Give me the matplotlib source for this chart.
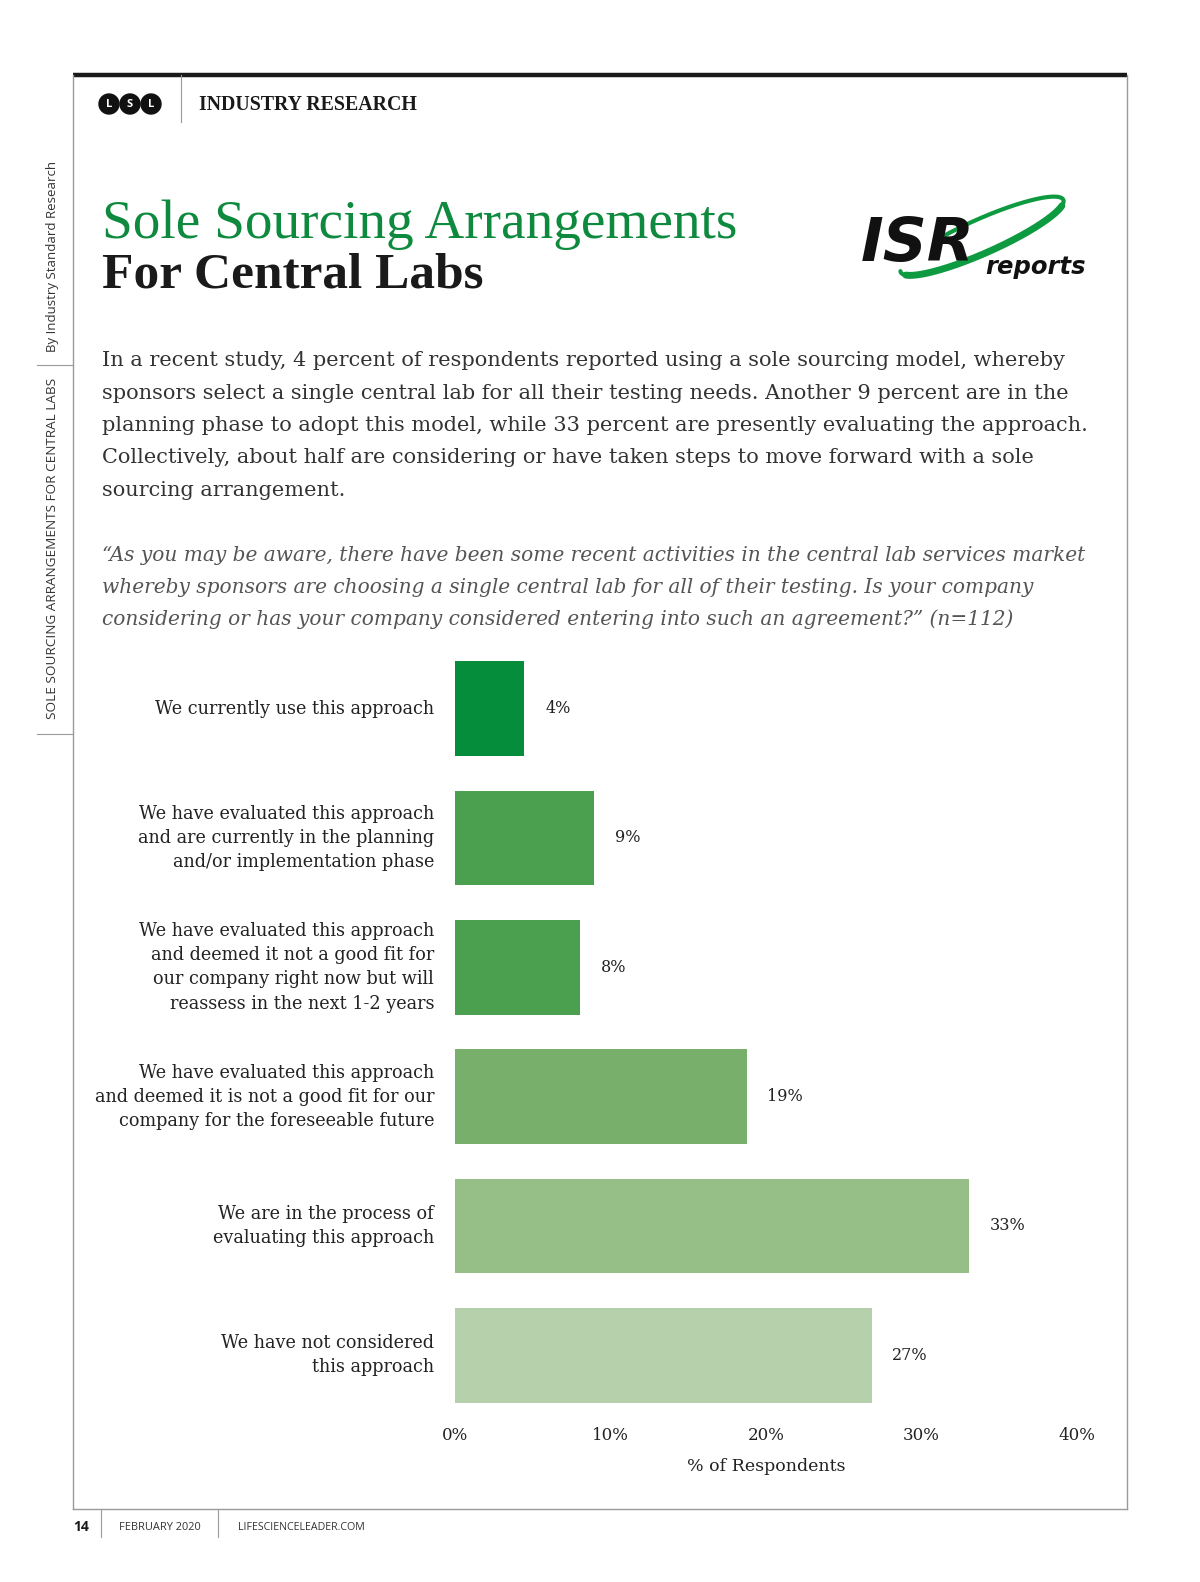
import numpy as np
import matplotlib
matplotlib.use("Agg")
import matplotlib.pyplot as plt
from matplotlib.patches import Circle

# data
categories = [
    "We currently use this approach",
    "We have evaluated this approach\nand are currently in the planning\nand/or implementation phase",
    "We have evaluated this approach\nand deemed it not a good fit for\nour company right now but will\nreassess in the next 1-2 years",
    "We have evaluated this approach\nand deemed it is not a good fit for our\ncompany for the foreseeable future",
    "We are in the process of\nevaluating this approach",
    "We have not considered\nthis approach",
]
values = [4.46, 8.93, 8.04, 18.75, 33.04, 26.79]   # % of respondents (n=112)
bar_colors = ["#058d3c", "#4aa04f", "#4aa04f", "#77af6b", "#96bf87", "#b5d0aa"]
x_ticks = [0, 10, 20, 30, 40]
x_label = "% of Respondents"

title_1 = "Sole Sourcing Arrangements"
title_2 = "For Central Labs"
body_lines = [
    "In a recent study, 4 percent of respondents reported using a sole sourcing model, whereby",
    "sponsors select a single central lab for all their testing needs. Another 9 percent are in the",
    "planning phase to adopt this model, while 33 percent are presently evaluating the approach.",
    "Collectively, about half are considering or have taken steps to move forward with a sole",
    "sourcing arrangement.",
]
quote_lines = [
    "\u201cAs you may be aware, there have been some recent activities in the central lab services market",
    "whereby sponsors are choosing a single central lab for all of their testing. Is your company",
    "considering or has your company considered entering into such an agreement?\u201d (n=112)",
]

SERIF = "DejaVu Serif"
TSERIF = "Liberation Serif"
SANS = "Open Sans"
GREEN = "#0e8a3e"

W, H = 1200, 1582
fig = plt.figure(figsize=(W / 100, H / 100), dpi=100)

# page decorations in pixel coordinates
bg = fig.add_axes([0, 0, 1, 1], zorder=0)
bg.set_xlim(0, W)
bg.set_ylim(H, 0)
bg.axis("off")

bg.plot([73, 1127], [75, 75], color="#1a1a1a", lw=3.2, solid_capstyle="butt")
bg.plot([73, 73], [75, 1509], color="#9a9a9a", lw=1)
bg.plot([1127, 1127], [75, 1509], color="#9a9a9a", lw=1)
bg.plot([73, 1127], [1509, 1509], color="#9a9a9a", lw=1)
bg.plot([37, 73], [365, 365], color="#9a9a9a", lw=0.8)
bg.plot([37, 73], [734, 734], color="#9a9a9a", lw=0.8)

# header
for cx, letter in zip([109, 130, 151], ["L", "S", "L"]):
    bg.add_patch(Circle((cx, 104), 10, color="#111111"))
    bg.text(cx, 104.5, letter, color="white", fontsize=8, fontweight="bold",
            family=SANS, ha="center", va="center")
bg.plot([181, 181], [75, 122], color="#9a9a9a", lw=0.8)
bg.text(199, 105, "INDUSTRY RESEARCH", fontsize=14.3, fontweight="bold",
        family=TSERIF, color="#1a1a1a", va="center")

# side text
bg.text(52.5, 256, "By Industry Standard Research", rotation=90, fontsize=9.5,
        family=SANS, color="#333333", ha="center", va="center")
bg.text(52.5, 548, "SOLE SOURCING ARRANGEMENTS FOR CENTRAL LABS", rotation=90,
        fontsize=9.7, family=SANS, color="#333333", ha="center", va="center")

# titles
bg.text(102, 238, title_1, fontsize=39.8, family=TSERIF, color=GREEN, va="baseline")
bg.text(102, 288, title_2, fontsize=37, family=TSERIF, fontweight="bold",
        color="#1a1a1a", va="baseline")

# ISR logo: swoosh thicker at the bottom, thinner at the ends
t = np.linspace(np.pi * 0.98, 2 * np.pi + 1.95, 300)
cx, cy, a, b, phi = 982, 236, 89, 17, np.radians(24)
sx = cx + a * np.cos(t) * np.cos(phi) - b * np.sin(t) * np.sin(phi)
sy = cy - (a * np.cos(t) * np.sin(phi) + b * np.sin(t) * np.cos(phi))
bg.plot(sx, sy, color="#0e9a40", lw=3, solid_capstyle="round")
mid = slice(20, 170)
bg.plot(sx[mid], sy[mid], color="#0e9a40", lw=5, solid_capstyle="round")
bg.text(861, 261, "ISR", fontsize=44, fontweight="heavy", style="italic",
        family="DejaVu Sans", color="#111111", va="baseline")
bg.text(985, 274, "reports", fontsize=17.5, fontweight="bold", style="italic",
        family="DejaVu Sans", color="#111111", va="baseline")

# body
for i, line in enumerate(body_lines):
    bg.text(102, 361 + i * 32.3, line, fontsize=15.05, family=SERIF,
            color="#333333", va="center")
for i, line in enumerate(quote_lines):
    bg.text(102, 555 + i * 32.3, line, fontsize=14.5, family=SERIF,
            style="italic", color="#555555", va="center")

# footer
bg.text(73, 1527, "14", fontsize=10, fontweight="bold", family=SANS,
        color="#1a1a1a", va="center")
bg.plot([101, 101], [1510, 1537], color="#9a9a9a", lw=0.8)
bg.plot([218, 218], [1510, 1537], color="#9a9a9a", lw=0.8)
bg.text(119, 1527, "FEBRUARY 2020", fontsize=7.9, family=SANS,
        color="#333333", va="center")
bg.text(238, 1527, "LIFESCIENCELEADER.COM", fontsize=7.7, family=SANS,
        color="#333333", va="center")

# chart
ax = fig.add_axes([455 / W, 1 - 1420 / H, 622 / W, 776 / H], zorder=1)
ax.patch.set_alpha(0)
y = np.arange(len(values))
ax.barh(y, values, height=0.73, color=bar_colors)
ax.set_xlim(0, 40)
ax.set_ylim(len(values) - 0.5, -0.5)
ax.set_xticks(x_ticks)
ax.set_xticklabels([f"{v}%" for v in x_ticks], family=SERIF, fontsize=12,
                   color="#222222")
ax.set_yticks(y)
ax.set_yticklabels(categories, family=SERIF, fontsize=12.7, color="#222222",
                   linespacing=1.44, va="center")
ax.tick_params(axis="both", length=0)
ax.tick_params(axis="y", pad=15)
ax.tick_params(axis="x", pad=5)
for s in ax.spines.values():
    s.set_visible(False)
ax.set_xlabel(x_label, family=SERIF, fontsize=12.5, color="#222222", labelpad=10)

for yi, v in zip(y, values):
    ax.annotate(f"{round(v)}%", (v, yi), xytext=(15, 0), textcoords="offset points",
                va="center", ha="left", family=SERIF, fontsize=11.5,
                color="#222222")

fig.savefig("out.png", dpi=100, facecolor="white")
